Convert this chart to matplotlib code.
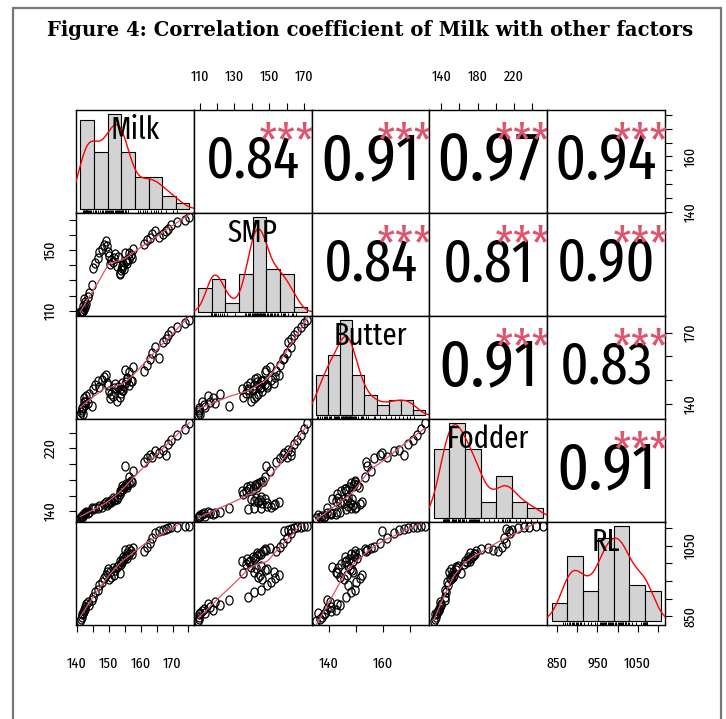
import os
import numpy as np
import matplotlib
matplotlib.use("Agg")
import matplotlib.pyplot as plt
from matplotlib import font_manager
from matplotlib.font_manager import FontProperties
from matplotlib.path import Path
from matplotlib.patches import Rectangle
import matplotlib.transforms as mtransforms

names = ["Milk", "SMP", "Butter", "Fodder", "RL"]

milk = [141.1, 141.3, 141.6, 141.5, 141.9, 142.2, 142.0, 142.4, 142.7, 142.3, 143.0, 143.4, 143.9, 144.6,
        145.2, 145.8, 146.5, 147.1, 147.8, 148.4, 149.0, 149.5, 149.9,
        150.2, 150.8, 151.5, 150.5, 152.0, 151.2, 152.6, 153.0,
        153.4, 153.9, 154.3, 153.6, 154.8, 154.1, 154.6, 155.3, 155.8, 156.4, 155.6, 156.9, 157.3, 156.2, 157.6, 155.1,
        161.2, 162.0, 162.8, 163.6, 164.5,
        165.8, 166.9, 167.8, 168.6, 169.4, 171.5, 173.8, 175.3]
smp = [109.1, 109.5, 109.8, 109.3, 109.9, 111.5, 113.0, 112.2, 115.8, 117.5, 114.6, 119.0, 121.5, 127.0,
       138.0, 141.5, 145.0, 148.5, 151.0, 153.5, 155.8, 152.5, 149.0,
       146.0, 143.5, 144.8, 141.0, 147.5, 142.2, 139.5, 145.5,
       135.0, 136.8, 138.2, 134.2, 137.5, 139.2, 140.5, 142.8, 141.8, 144.0, 143.2, 146.5, 145.0, 147.8, 150.5, 148.2,
       154.2, 156.5, 158.0, 160.5, 162.8,
       158.5, 160.8, 162.5, 164.0, 166.2, 168.5, 169.8, 171.9]
butter = [135.3, 136.8, 137.5, 138.2, 136.0, 140.8, 138.6, 139.5, 141.0, 142.5, 143.2, 140.5, 144.2, 139.2,
          146.5, 148.0, 149.5, 147.2, 150.2, 151.5, 152.4, 149.0, 147.8,
          145.5, 144.2, 146.8, 142.5, 148.5, 143.5, 141.2, 147.0,
          143.0, 144.5, 145.8, 146.2, 147.5, 148.8, 146.0, 149.2, 150.5, 148.2, 151.0, 149.8, 149.6, 153.5, 155.5, 154.2,
          153.8, 156.5, 158.8, 161.5, 164.0,
          159.5, 166.0, 167.5, 169.2, 170.8, 172.5, 174.0, 175.4]
fodder = [131.5, 132.8, 134.0, 133.1, 135.6, 136.2, 134.8, 137.5, 138.0, 136.9, 139.2, 138.5, 139.6, 144.0,
          143.5, 145.0, 144.2, 147.5, 146.0, 149.0, 151.5, 148.2, 150.5,
          150.8, 152.5, 154.0, 153.2, 155.8, 157.0, 156.2, 158.5,
          162.0, 165.5, 168.0, 166.2, 170.5, 172.0, 169.0, 174.5, 173.2, 176.0, 171.2, 178.5, 177.0, 184.0, 191.5, 197.5,
          203.0, 207.5, 212.0, 209.5, 216.0,
          214.5, 218.0, 211.5, 225.0, 231.0, 236.5, 245.0, 252.3]
rl = [836, 842, 848, 855, 860, 866, 858, 871, 877, 869, 884, 890, 882, 896,
      905, 918, 926, 940, 947, 958, 966, 975, 985,
      955, 962, 968, 975, 981, 986, 990, 994,
      972, 998, 1003, 1008, 1012, 1006, 1018, 1022, 1015, 1026, 1030, 1035, 1028, 1040, 1045, 1038,
      1036, 1047, 1058, 1072, 1088,
      1092, 1096, 1099, 1101, 1103, 1104, 1106, 1107]

# printed coefficients in the upper panels
cor_pairs = [(0, 1), (0, 2), (0, 3), (0, 4), (1, 2), (1, 3), (1, 4), (2, 3), (2, 4), (3, 4)]
cor_text = ["0.84", "0.91", "0.97", "0.94", "0.84", "0.81", "0.90", "0.91", "0.83", "0.91"]
signif = "***"

# axis ticks per variable and the labels that are printed on the outer axes
var_ticks = [[140, 145, 150, 155, 160, 165, 170, 175],
             [110, 120, 130, 140, 150, 160, 170],
             [140, 150, 160, 170],
             [140, 160, 180, 200, 220, 240],
             [850, 900, 950, 1000, 1050, 1100]]
bottom_labels = {0: [140, 150, 160, 170], 2: [140, 160], 4: [850, 950, 1050]}
top_labels = {1: [110, 130, 150, 170], 3: [140, 180, 220]}
right_labels = {0: [140, 160], 2: [140, 170], 4: [850, 1050]}
left_labels = {1: [110, 150], 3: [140, 220]}
bin_width = [5, 10, 5, 20, 50]

title = "Figure 4: Correlation coefficient of Milk with other factors"

data = [np.array(v, dtype=float) for v in (milk, smp, butter, fodder, rl)]
n_var = len(names)


# ---- a narrow sans font if one is installed ----
def pick_narrow():
    prefs = ["ExtraCondensed", "SemiCondensed", "Narrow", "Condensed"]
    found = {}
    for f in font_manager.fontManager.ttflist:
        base = os.path.basename(f.fname)
        if f.style != "normal" or f.weight not in (400, "normal", "regular"):
            continue
        if "Mono" in base or "Serif" in base or "Italic" in base or "Bold" in base:
            continue
        stem = base.rsplit(".", 1)[0]
        for p in prefs:
            if p in stem or p in f.name.replace(" ", ""):
                found.setdefault(p, f.fname)
                break
    for p in ["ExtraCondensed", "Narrow", "Condensed", "SemiCondensed"]:
        if p in found:
            return FontProperties(fname=found[p])
    return FontProperties(family="Liberation Sans")


FP = pick_narrow()
STAR_COL = "#DF536B"


def lowess(x, y, f=2 / 3, it=3):
    o = np.argsort(x)
    x, y = x[o], y[o]
    n = len(x)
    r = max(min(int(round(f * n)), n), 2)
    fit = np.zeros(n)
    rob = np.ones(n)
    for _ in range(it + 1):
        for i in range(n):
            d = np.abs(x - x[i])
            h = np.sort(d)[r - 1]
            w = np.clip(d / max(h, 1e-12), 0, 1)
            w = (1 - w ** 3) ** 3 * rob
            A = np.array([[w.sum(), (w * x).sum()], [(w * x).sum(), (w * x * x).sum()]])
            b = np.array([(w * y).sum(), (w * x * y).sum()])
            beta = np.linalg.lstsq(A, b, rcond=None)[0]
            fit[i] = beta[0] + beta[1] * x[i]
        res = y - fit
        s = np.median(np.abs(res))
        u = np.clip(res / (6 * s + 1e-12), -1, 1)
        rob = (1 - u ** 2) ** 2
    return x, fit


def kde(v):
    n = len(v)
    iqr = np.subtract(*np.percentile(v, [75, 25]))
    bw = 0.9 * min(v.std(ddof=1), iqr / 1.34) * n ** -0.2
    xs = np.linspace(v.min() - 3 * bw, v.max() + 3 * bw, 512)
    ys = np.exp(-0.5 * ((xs[:, None] - v[None, :]) / bw) ** 2).sum(1) / (n * bw * np.sqrt(2 * np.pi))
    return xs, ys


def lim(v):
    r = v.max() - v.min()
    return v.min() - 0.04 * r, v.max() + 0.04 * r


W, H = 726, 719
fig = plt.figure(figsize=(W / 100, H / 100), dpi=100)
renderer = fig.canvas.get_renderer()


def fit_size(s, size, max_w):
    # shrink a font size so that string s is no wider than max_w pixels
    t = fig.text(0, 0, s, fontproperties=FP, fontsize=size)
    w = t.get_window_extent(renderer).width
    t.remove()
    return size * min(1.0, max_w / w)


tick_size = fit_size("1050", 12, 27)
name_size = fit_size("Fodder", 34, 83)
star_size = fit_size(signif, 62, 56)

t = np.linspace(0, 2 * np.pi, 40)
ring = Path(np.column_stack([0.8 * np.cos(t), np.sin(t)]), closed=True)

x0, y0 = 76, 110
cw, rh = (665 - 76) / 5, (625 - 110) / 5

tick_kw = dict(direction="out", length=5, width=0.8, color="black", labelsize=tick_size)

for i in range(n_var):
    for j in range(n_var):
        left = (x0 + j * cw) / W
        bottom = 1 - (y0 + (i + 1) * rh) / H
        ax = fig.add_axes([left, bottom, cw / W, rh / H])
        ax.set_xlim(lim(data[j]))
        ax.set_ylim(lim(data[i]))
        ax.set_xticks([])
        ax.set_yticks([])
        for s in ax.spines.values():
            s.set_linewidth(1.0)

        if i > j:
            ax.plot(data[j], data[i], ls="none", marker=ring, ms=6.5, mfc="none",
                    mec="black", mew=0.9)
            lx, ly = lowess(data[j], data[i])
            ax.plot(lx, ly, color=STAR_COL, lw=0.9)
        elif i < j:
            k = cor_pairs.index((i, j))
            r = float(cor_text[k])
            scale = (r + 0.3) / 1.14
            size = fit_size(cor_text[k], 54 * scale, 94 * scale)
            ax.text(0.5, 0.5, cor_text[k], transform=ax.transAxes, ha="center", va="center",
                    fontproperties=FP, fontsize=size)
            ax.text(0.79, 0.67, signif, transform=ax.transAxes, ha="center", va="center",
                    fontproperties=FP, fontsize=star_size, color=STAR_COL)
        else:
            v = data[i]
            b = bin_width[i]
            edges = np.arange(np.floor(v.min() / b) * b, np.ceil(v.max() / b) * b + b / 2, b)
            hx = ax.inset_axes([0, 0, 1, 1])
            hx.set_axis_off()
            dens, _, _ = hx.hist(v, bins=edges, density=True, color="#D3D3D3",
                                 edgecolor="black", linewidth=0.8)
            span = edges[-1] - edges[0]
            hx.set_xlim(edges[0] - 0.04 * span, edges[-1] + 0.04 * span)
            m = dens.max()
            hx.set_ylim(-0.04 * m, 1.04 * m)
            kx, ky = kde(v)
            hx.plot(kx, ky, color="red", lw=1.0)
            trans = mtransforms.blended_transform_factory(hx.transData, hx.transAxes)
            hx.vlines(v, 0, 0.03, transform=trans, color="black", lw=0.7)
            hx.text(0.5, 0.8, names[i], transform=hx.transAxes, ha="center", va="center",
                    fontproperties=FP, fontsize=name_size)

        # outer axes, alternating sides as in pairs()
        if i == n_var - 1 and j in bottom_labels:
            ax.set_xticks(var_ticks[j])
            ax.set_xticklabels([str(v) if v in bottom_labels[j] else "" for v in var_ticks[j]],
                               fontproperties=FP)
            ax.tick_params(axis="x", bottom=True, pad=18, **tick_kw)
        if i == 0 and j in top_labels:
            ax.set_xticks(var_ticks[j])
            ax.set_xticklabels([str(v) if v in top_labels[j] else "" for v in var_ticks[j]],
                               fontproperties=FP)
            ax.tick_params(axis="x", top=True, labeltop=True, bottom=False, labelbottom=False,
                           pad=14, **tick_kw)
        if j == n_var - 1 and i in right_labels:
            ax.set_yticks(var_ticks[i])
            ax.set_yticklabels([str(v) if v in right_labels[i] else "" for v in var_ticks[i]],
                               fontproperties=FP, rotation=90, va="center")
            ax.tick_params(axis="y", right=True, labelright=True, left=False, labelleft=False,
                           pad=8, **tick_kw)
        if j == 0 and i in left_labels:
            ax.set_yticks(var_ticks[i])
            ax.set_yticklabels([str(v) if v in left_labels[i] else "" for v in var_ticks[i]],
                               fontproperties=FP, rotation=90, va="center")
            ax.tick_params(axis="y", left=True, pad=8, **tick_kw)

ttl = fig.text(370 / W, 1 - 30 / H, title, ha="center", va="center",
               family="DejaVu Serif", fontweight="bold", fontsize=16)
fig.canvas.draw()
ttl.set_fontsize(16 * 646 / ttl.get_window_extent().width)

fig.add_artist(Rectangle((13 / W, -0.05), (721 - 13) / W, 1 - 8 / H + 0.05,
                         transform=fig.transFigure, fill=False, ec="#777777", lw=1.6))

fig.savefig("out.png", dpi=100, facecolor="white")
